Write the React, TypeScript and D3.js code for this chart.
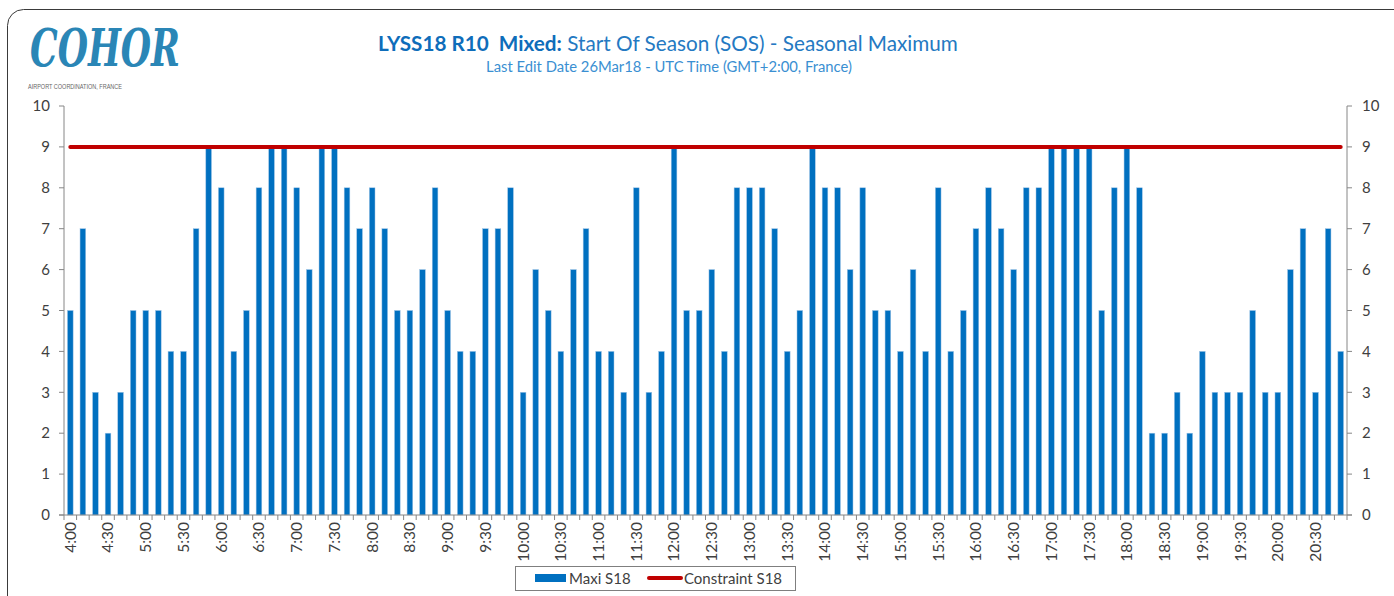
import React from 'react';
import * as d3 from 'd3';

const categories = [
  '4:00','4:10','4:20','4:30','4:40','4:50',
  '5:00','5:10','5:20','5:30','5:40','5:50',
  '6:00','6:10','6:20','6:30','6:40','6:50',
  '7:00','7:10','7:20','7:30','7:40','7:50',
  '8:00','8:10','8:20','8:30','8:40','8:50',
  '9:00','9:10','9:20','9:30','9:40','9:50',
  '10:00','10:10','10:20','10:30','10:40','10:50',
  '11:00','11:10','11:20','11:30','11:40','11:50',
  '12:00','12:10','12:20','12:30','12:40','12:50',
  '13:00','13:10','13:20','13:30','13:40','13:50',
  '14:00','14:10','14:20','14:30','14:40','14:50',
  '15:00','15:10','15:20','15:30','15:40','15:50',
  '16:00','16:10','16:20','16:30','16:40','16:50',
  '17:00','17:10','17:20','17:30','17:40','17:50',
  '18:00','18:10','18:20','18:30','18:40','18:50',
  '19:00','19:10','19:20','19:30','19:40','19:50',
  '20:00','20:10','20:20','20:30','20:40','20:50',
];

const maxiS18 = [
  5, 7, 3, 2, 3, 5,
  5, 5, 4, 4, 7, 9,
  8, 4, 5, 8, 9, 9,
  8, 6, 9, 9, 8, 7,
  8, 7, 5, 5, 6, 8,
  5, 4, 4, 7, 7, 8,
  3, 6, 5, 4, 6, 7,
  4, 4, 3, 8, 3, 4,
  9, 5, 5, 6, 4, 8,
  8, 8, 7, 4, 5, 9,
  8, 8, 6, 8, 5, 5,
  4, 6, 4, 8, 4, 5,
  7, 8, 7, 6, 8, 8,
  9, 9, 9, 9, 5, 8,
  9, 8, 2, 2, 3, 2,
  4, 3, 3, 3, 5, 3,
  3, 6, 7, 3, 7, 4,
];

const constraintS18 = 9;

const tickLabels = [
  '4:00','4:30','5:00','5:30','6:00','6:30','7:00','7:30','8:00','8:30',
  '9:00','9:30','10:00','10:30','11:00','11:30','12:00','12:30','13:00','13:30',
  '14:00','14:30','15:00','15:30','16:00','16:30','17:00','17:30','18:00','18:30',
  '19:00','19:30','20:00','20:30',
];

const yTicks = [0, 1, 2, 3, 4, 5, 6, 7, 8, 9, 10];

const FONT = 'Lato, "Liberation Sans", sans-serif';
const AXIS = '#868686';
const TXT = '#404040';
const BLUE = '#0070C0';
const RED = '#C00000';

export default function App() {
  const left = 64;
  const right = 1347;
  const x = d3.scaleBand<string>().domain(categories).range([left, right]).paddingInner(0).paddingOuter(0);
  const y = d3.scaleLinear().domain([0, 10]).range([515, 106]);
  const step = x.step();
  const bw = step * 0.45;
  const cx = (c: string) => (x(c) as number) + step / 2;

  const line = d3
    .line<string>()
    .x((c) => cx(c))
    .y(() => y(constraintS18));

  const boundaries = d3.range(categories.length + 1).map((i) => left + i * step);

  return (
    <svg
      width={1394}
      height={596}
      style={{ position: 'absolute', left: 0, top: 0, background: '#fff' }}
      fontFamily={FONT}
    >
      <rect x={7.5} y={9.5} width={1420} height={620} rx={16} fill="#fff" stroke="#3a3a3a" strokeWidth={1} />

      {/* Logo */}
      <text
        x={30}
        y={66}
        fontFamily='"DejaVu Serif", serif'
        fontWeight="bold"
        fontStyle="italic"
        fontSize={52}
        fill="#2A86B6"
        textLength={150}
        lengthAdjust="spacingAndGlyphs"
      >
        COHOR
      </text>
      <text x={28} y={89} fontSize={7} fill="#666" fontFamily='"Liberation Sans", sans-serif' textLength={94} lengthAdjust="spacingAndGlyphs">
        AIRPORT COORDINATION, FRANCE
      </text>

      {/* Title */}
      <text x={668} y={51} textAnchor="middle" fontSize={20.7} fill="#2479C2" style={{ whiteSpace: 'pre' }}>
        <tspan fontWeight="bold" fill="#0E6DBA">{'LYSS18 R10  Mixed:'}</tspan>
        <tspan>{' Start Of Season (SOS) - Seasonal Maximum'}</tspan>
      </text>
      <text x={669} y={72} textAnchor="middle" fontSize={14.8} fill="#3A8FD2">
        Last Edit Date 26Mar18 - UTC Time (GMT+2:00, France)
      </text>

      {/* Bars */}
      {categories.map((c, i) => (
        <rect
          key={c}
          x={cx(c) - bw / 2}
          y={y(maxiS18[i])}
          width={bw}
          height={y(0) - y(maxiS18[i])}
          fill={BLUE}
          stroke="#9DC3E6"
          strokeWidth={0.5}
        />
      ))}

      {/* Constraint line */}
      <path d={line(categories) || ''} fill="none" stroke={RED} strokeWidth={4} strokeLinecap="round" />

      {/* Left axis */}
      <line x1={left} x2={left} y1={y(10)} y2={y(0)} stroke={AXIS} strokeWidth={1} />
      {yTicks.map((t) => (
        <g key={'l' + t}>
          <line x1={left - 5} x2={left} y1={y(t)} y2={y(t)} stroke={AXIS} />
          <text x={50} y={y(t)} dy="0.35em" textAnchor="end" fontSize={15} fill={TXT}>
            {t}
          </text>
        </g>
      ))}

      {/* Right axis */}
      <line x1={right} x2={right} y1={y(10)} y2={y(0)} stroke={AXIS} strokeWidth={1} />
      {yTicks.map((t) => (
        <g key={'r' + t}>
          <line x1={right} x2={right + 5} y1={y(t)} y2={y(t)} stroke={AXIS} />
          <text x={1362} y={y(t)} dy="0.35em" textAnchor="start" fontSize={15} fill={TXT}>
            {t}
          </text>
        </g>
      ))}

      {/* X axis */}
      <line x1={left - 5} x2={right + 5} y1={y(0)} y2={y(0)} stroke={AXIS} />
      {boundaries.map((b, i) => (
        <line key={'t' + i} x1={b} x2={b} y1={y(0)} y2={y(0) + 5} stroke={AXIS} />
      ))}
      {tickLabels.map((lab) => (
        <text
          key={'x' + lab}
          transform={`translate(${cx(lab)},522) rotate(-90)`}
          dy="0.35em"
          textAnchor="end"
          fontSize={15.5}
          fill={TXT}
        >
          {lab}
        </text>
      ))}

      {/* Legend */}
      <rect x={515.5} y={566.5} width={280} height={24} fill="#fff" stroke="#7f7f7f" />
      <rect x={535} y={574} width={31} height={8} fill={BLUE} />
      <text x={569} y={584} fontSize={15} fill={TXT}>Maxi S18</text>
      <line x1={649} x2={681} y1={578} y2={578} stroke={RED} strokeWidth={4} strokeLinecap="round" />
      <text x={684} y={584} fontSize={15} fill={TXT}>Constraint S18</text>
    </svg>
  );
}
